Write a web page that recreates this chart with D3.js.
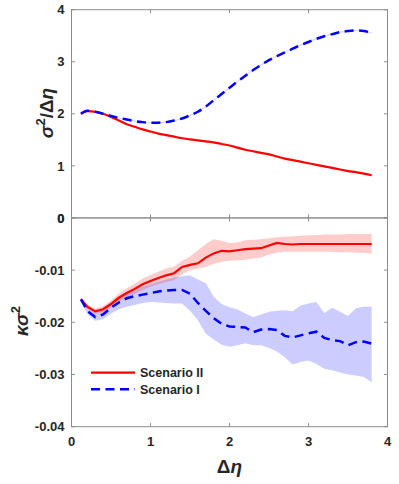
<!DOCTYPE html>
<html><head><meta charset="utf-8">
<script src="https://cdn.jsdelivr.net/npm/d3@7"></script>
<style>
html,body{margin:0;padding:0;background:#fff;}
svg text{font-family:"Liberation Sans",Arial,Helvetica,sans-serif;font-weight:bold;fill:#262626;}
</style></head>
<body><svg id="c" width="399" height="484"></svg>
<script>
// ---- data ----
const seriesNames = ["Scenario II", "Scenario I"];
const etaTop = [0.12,0.2,0.3,0.4,0.5,0.6,0.7,0.8,0.9,1.0,1.1,1.2,1.3,1.4,1.5,1.6,1.7,1.8,1.9,2.0,2.1,2.2,2.3,2.4,2.5,2.6,2.7,2.8,2.9,3.0,3.1,3.2,3.3,3.4,3.5,3.6,3.7,3.8];
const sigmaII = [2.00,2.05,2.04,2.00,1.94,1.87,1.80,1.75,1.70,1.66,1.62,1.59,1.56,1.53,1.51,1.49,1.47,1.45,1.42,1.39,1.35,1.31,1.28,1.25,1.22,1.18,1.14,1.11,1.08,1.05,1.02,0.99,0.96,0.93,0.90,0.88,0.85,0.82];
const sigmaI = [2.00,2.06,2.04,2.00,1.96,1.92,1.89,1.86,1.84,1.83,1.83,1.84,1.87,1.91,1.97,2.04,2.14,2.26,2.38,2.50,2.62,2.73,2.84,2.94,3.03,3.11,3.18,3.25,3.32,3.38,3.44,3.49,3.53,3.57,3.59,3.60,3.59,3.55];

const etaBot = etaTop;
const kappaII = [-0.0156,-0.0170,-0.0179,-0.0175,-0.0165,-0.0153,-0.0144,-0.0136,-0.0127,-0.0121,-0.0115,-0.0110,-0.0106,-0.0094,-0.0090,-0.0087,-0.0076,-0.0068,-0.0063,-0.0064,-0.0062,-0.0060,-0.0059,-0.0058,-0.0053,-0.0048,-0.0050,-0.0051,-0.0050,-0.0050,-0.0050,-0.0050,-0.0050,-0.0050,-0.0050,-0.0050,-0.0050,-0.0050];
const kappaIIUp = [-0.0153,-0.0166,-0.0174,-0.0169,-0.0158,-0.0145,-0.0135,-0.0126,-0.0116,-0.0110,-0.0103,-0.0097,-0.0093,-0.0082,-0.0074,-0.0062,-0.0050,-0.0041,-0.0044,-0.0048,-0.0047,-0.0043,-0.0042,-0.0041,-0.0039,-0.0037,-0.0036,-0.0035,-0.0034,-0.0033,-0.0033,-0.0032,-0.0032,-0.0032,-0.0031,-0.0031,-0.0031,-0.0031];
const kappaIILo = [-0.0159,-0.0174,-0.0184,-0.0181,-0.0172,-0.0161,-0.0153,-0.0146,-0.0138,-0.0132,-0.0127,-0.0123,-0.0119,-0.0108,-0.0100,-0.0097,-0.0094,-0.0088,-0.0084,-0.0082,-0.0081,-0.0080,-0.0078,-0.0076,-0.0070,-0.0067,-0.0065,-0.0065,-0.0065,-0.0065,-0.0065,-0.0065,-0.0065,-0.0066,-0.0066,-0.0067,-0.0067,-0.0068];
const kappaI = [-0.0156,-0.0178,-0.0190,-0.0185,-0.0172,-0.0162,-0.0154,-0.0150,-0.0147,-0.0144,-0.0141,-0.0139,-0.0138,-0.0138,-0.0145,-0.0163,-0.0178,-0.0192,-0.0203,-0.0208,-0.0209,-0.0210,-0.0219,-0.0214,-0.0213,-0.0215,-0.0226,-0.0229,-0.0225,-0.0221,-0.0218,-0.0230,-0.0234,-0.0236,-0.0244,-0.0238,-0.0237,-0.0241];
const kappaIUp = [-0.0153,-0.0172,-0.0181,-0.0174,-0.0161,-0.0150,-0.0142,-0.0137,-0.0132,-0.0127,-0.0122,-0.0118,-0.0114,-0.0112,-0.0110,-0.0118,-0.0125,-0.0151,-0.0165,-0.0171,-0.0175,-0.0183,-0.0190,-0.0185,-0.0180,-0.0178,-0.0177,-0.0179,-0.0168,-0.0164,-0.0161,-0.0182,-0.0172,-0.0180,-0.0188,-0.0173,-0.0170,-0.0170];
const kappaILo = [-0.0159,-0.0184,-0.0197,-0.0194,-0.0183,-0.0175,-0.0170,-0.0167,-0.0163,-0.0161,-0.0162,-0.0163,-0.0164,-0.0164,-0.0178,-0.0196,-0.0222,-0.0233,-0.0243,-0.0247,-0.0244,-0.0240,-0.0244,-0.0244,-0.0249,-0.0256,-0.0267,-0.0281,-0.0276,-0.0273,-0.0280,-0.0289,-0.0292,-0.0296,-0.0300,-0.0302,-0.0305,-0.0315];

const xTicks = [0,1,2,3,4];
const yTicksTop = [0,1,2,3,4];
const yTicksBot = [0,-0.01,-0.02,-0.03,-0.04];
const yTickLabelsBot = ["0","-0.01","-0.02","-0.03","-0.04"];

// ---- layout ----
const svg = d3.select("#c");
const L = 71.5, R = 387.5;
const topP = {t: 9.7, b: 217.9};
const botP = {t: 217.9, b: 426.7};
const axisCol = "#8c8c8c";
const red = "#ff0000", blue = "#0000ff";
const dash = "9,5.5";

const x = d3.scaleLinear().domain([0,4]).range([L,R]);
const yT = d3.scaleLinear().domain([0,4]).range([topP.b, topP.t]);
const yB = d3.scaleLinear().domain([-0.04,0]).range([botP.b, botP.t]);

function frame(y, yt, yfmt, showX) {
  const g = svg.append("g");
  const [y0, y1] = y.range();
  const tl = 3.5;
  xTicks.forEach(t => {
    g.append("line").attr("x1", x(t)).attr("x2", x(t)).attr("y1", y0).attr("y2", y0 - tl).attr("stroke", axisCol);
    g.append("line").attr("x1", x(t)).attr("x2", x(t)).attr("y1", y1).attr("y2", y1 + tl).attr("stroke", axisCol);
  });
  yt.forEach(t => {
    g.append("line").attr("x1", L).attr("x2", L + tl).attr("y1", y(t)).attr("y2", y(t)).attr("stroke", axisCol);
    g.append("line").attr("x1", R).attr("x2", R - tl).attr("y1", y(t)).attr("y2", y(t)).attr("stroke", axisCol);
  });
  g.append("rect").attr("x", L).attr("y", y1).attr("width", R - L).attr("height", y0 - y1)
    .attr("fill", "none").attr("stroke", axisCol).attr("stroke-width", 1);
  yt.forEach((t, i) => {
    g.append("text").attr("x", L - 7).attr("y", y(t)).attr("dy", "0.36em")
      .attr("text-anchor", "end").attr("font-size", 13).text(yfmt(t, i));
  });
  if (showX) {
    xTicks.forEach(t => {
      g.append("text").attr("x", x(t)).attr("y", y0 + 19)
        .attr("text-anchor", "middle").attr("font-size", 13).text(t);
    });
  }
}

// ---- bottom panel bands ----
const area = (lo, up, xs) => d3.area().x((d, i) => x(xs[i])).y0((d, i) => yB(lo[i])).y1((d, i) => yB(up[i]))(xs);
svg.append("path").attr("d", area(kappaILo, kappaIUp, etaBot)).attr("fill", blue).attr("fill-opacity", 0.2);
svg.append("path").attr("d", area(kappaIILo, kappaIIUp, etaBot)).attr("fill", red).attr("fill-opacity", 0.2);

frame(yT, yTicksTop, t => String(t), false);
frame(yB, yTicksBot, (t, i) => yTickLabelsBot[i], true);

// ---- lines ----
const lineTop = vals => d3.line().x((d, i) => x(etaTop[i])).y((d, i) => yT(vals[i])).curve(d3.curveMonotoneX)(etaTop);
const lineBot = vals => d3.line().x((d, i) => x(etaBot[i])).y((d, i) => yB(vals[i]))(etaBot);

svg.append("path").attr("d", lineTop(sigmaI)).attr("fill", "none").attr("stroke", "#d6d6ff").attr("stroke-width", 1.2);
svg.append("path").attr("d", lineTop(sigmaII)).attr("fill", "none").attr("stroke", red).attr("stroke-width", 2.2);
svg.append("path").attr("d", lineTop(sigmaI)).attr("fill", "none").attr("stroke", blue).attr("stroke-width", 2.5).attr("stroke-dasharray", dash);

svg.append("path").attr("d", lineBot(kappaII)).attr("fill", "none").attr("stroke", red).attr("stroke-width", 2.2);
svg.append("path").attr("d", lineBot(kappaI)).attr("fill", "none").attr("stroke", blue).attr("stroke-width", 2.5).attr("stroke-dasharray", dash);

// ---- legend ----
const lg = svg.append("g");
[[red, null], [blue, dash]].forEach((s, i) => {
  const yy = 372.7 + i * 16.6;
  const ln = lg.append("line").attr("x1", 91).attr("x2", 135).attr("y1", yy).attr("y2", yy)
    .attr("stroke", s[0]).attr("stroke-width", i ? 2.5 : 2.2);
  if (s[1]) ln.attr("stroke-dasharray", s[1]);
  lg.append("text").attr("x", 140).attr("y", yy).attr("dy", "0.36em").attr("font-size", 12.5).text(seriesNames[i]);
});

// ---- axis labels ----
const yl1 = svg.append("text").attr("transform", "translate(53,113) rotate(-90)")
  .attr("text-anchor", "middle").attr("font-size", 19);
yl1.append("tspan").attr("font-style", "italic").text("σ");
yl1.append("tspan").attr("font-size", 13).attr("dy", -8).text("2");
yl1.append("tspan").attr("dy", 8).text("/Δ");
yl1.append("tspan").attr("font-style", "italic").text("η");

const yl2 = svg.append("text").attr("transform", "translate(28,321) rotate(-90)")
  .attr("text-anchor", "middle").attr("font-size", 19);
yl2.append("tspan").attr("font-style", "italic").text("κσ");
yl2.append("tspan").attr("font-size", 13).attr("dy", -8).text("2");

const xl = svg.append("text").attr("x", 229.5).attr("y", 473).attr("text-anchor", "middle").attr("font-size", 19);
xl.append("tspan").text("Δ");
xl.append("tspan").attr("font-style", "italic").text("η");
</script></body></html>
